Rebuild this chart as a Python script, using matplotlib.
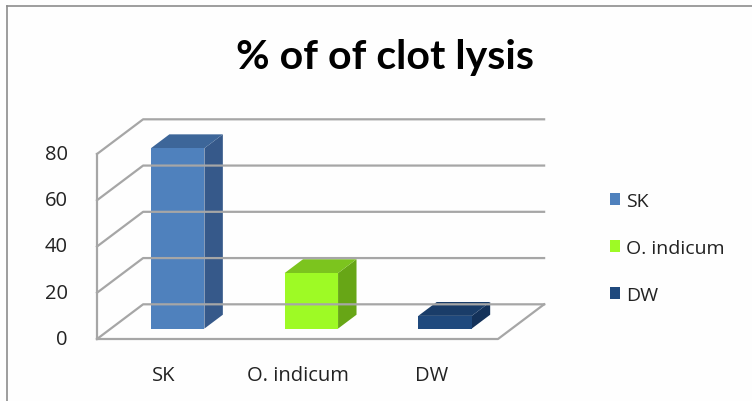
import matplotlib.pyplot as plt
from matplotlib.patches import Polygon, Patch
from matplotlib.lines import Line2D

plt.rcParams['font.family'] = ['Open Sans', 'DejaVu Sans']

categories = ['SK', 'O. indicum', 'DW']
values = [78, 24, 5.5]
ticks = [0, 20, 40, 60, 80]
front_colors = ['#4F81BD', '#9EFA25', '#1F497D']
top_colors = ['#3D6699', '#7CC41E', '#1A3D69']
side_colors = ['#36598A', '#67A616', '#14325A']

fig = plt.figure(figsize=(7.52, 4.02), dpi=100)
fig.patch.set_facecolor('#fefefe')
ax = fig.add_axes([97/752, 62/402, 401/752, 185/402])
ax.set_xlim(-0.5, 2.5)
ax.set_ylim(0, 80)
ax.axis('off')

# oblique "3d" depth of the floor, in data units
ddx, ddy = 0.345, 15.0
bw = 0.4
z0, z1 = 0.3, 0.7

def pt(x, y, z):
    return (x + z*ddx, y + z*ddy)

gcol = '#a6a6a6'
lw = 1.6
for t in ticks:
    ax.plot([-0.5, -0.5+ddx, 2.5+ddx], [t, t+ddy, t+ddy], color=gcol, lw=lw, clip_on=False)
    ax.annotate(str(t), xy=(-0.5, t), xytext=(-21, 0), textcoords='offset points',
                ha='right', va='center', fontsize=14.5, color='#222222')
ax.plot([-0.5, -0.5], [0, 80], color=gcol, lw=lw, clip_on=False)
ax.plot([-0.5, 2.5, 2.5+ddx], [0, 0, ddy], color=gcol, lw=lw, clip_on=False)

for i, v in enumerate(values):
    x0, x1 = i - bw/2, i + bw/2
    front = [pt(x0, 0, z0), pt(x1, 0, z0), pt(x1, v, z0), pt(x0, v, z0)]
    side = [pt(x1, 0, z0), pt(x1, 0, z1), pt(x1, v, z1), pt(x1, v, z0)]
    top = [pt(x0, v, z0), pt(x1, v, z0), pt(x1, v, z1), pt(x0, v, z1)]
    ax.add_patch(Polygon(side, closed=True, fc=side_colors[i], ec='none', clip_on=False))
    ax.add_patch(Polygon(top, closed=True, fc=top_colors[i], ec='none', clip_on=False))
    ax.add_patch(Polygon(front, closed=True, fc=front_colors[i], ec='none', clip_on=False))
    ax.annotate(categories[i], xy=(i, 0), xytext=(0, -26), textcoords='offset points',
                ha='center', va='center', fontsize=14.5, color='#222222')

handles = [Patch(fc=c, ec='none') for c in front_colors]
fig.legend(handles, categories, loc='center left', bbox_to_anchor=(600/752, 1-249/402),
           frameon=False, fontsize=14, handlelength=0.55, handleheight=0.55,
           handletextpad=0.3, labelspacing=1.5, borderpad=0, labelcolor='#222222')

fig.text(385/752, 1-57/402, '% of of clot lysis', fontsize=29.5, fontweight='bold',
         ha='center', va='center', family=['Lato', 'DejaVu Sans'])

# chart border (top and left edges visible)
fig.add_artist(Line2D([7/752, 1], [1-7/402, 1-7/402], color='#8c8c8c', lw=1.2))
fig.add_artist(Line2D([7/752, 7/752], [0, 1-7/402], color='#8c8c8c', lw=1.2))

fig.savefig('out.png', dpi=100)
